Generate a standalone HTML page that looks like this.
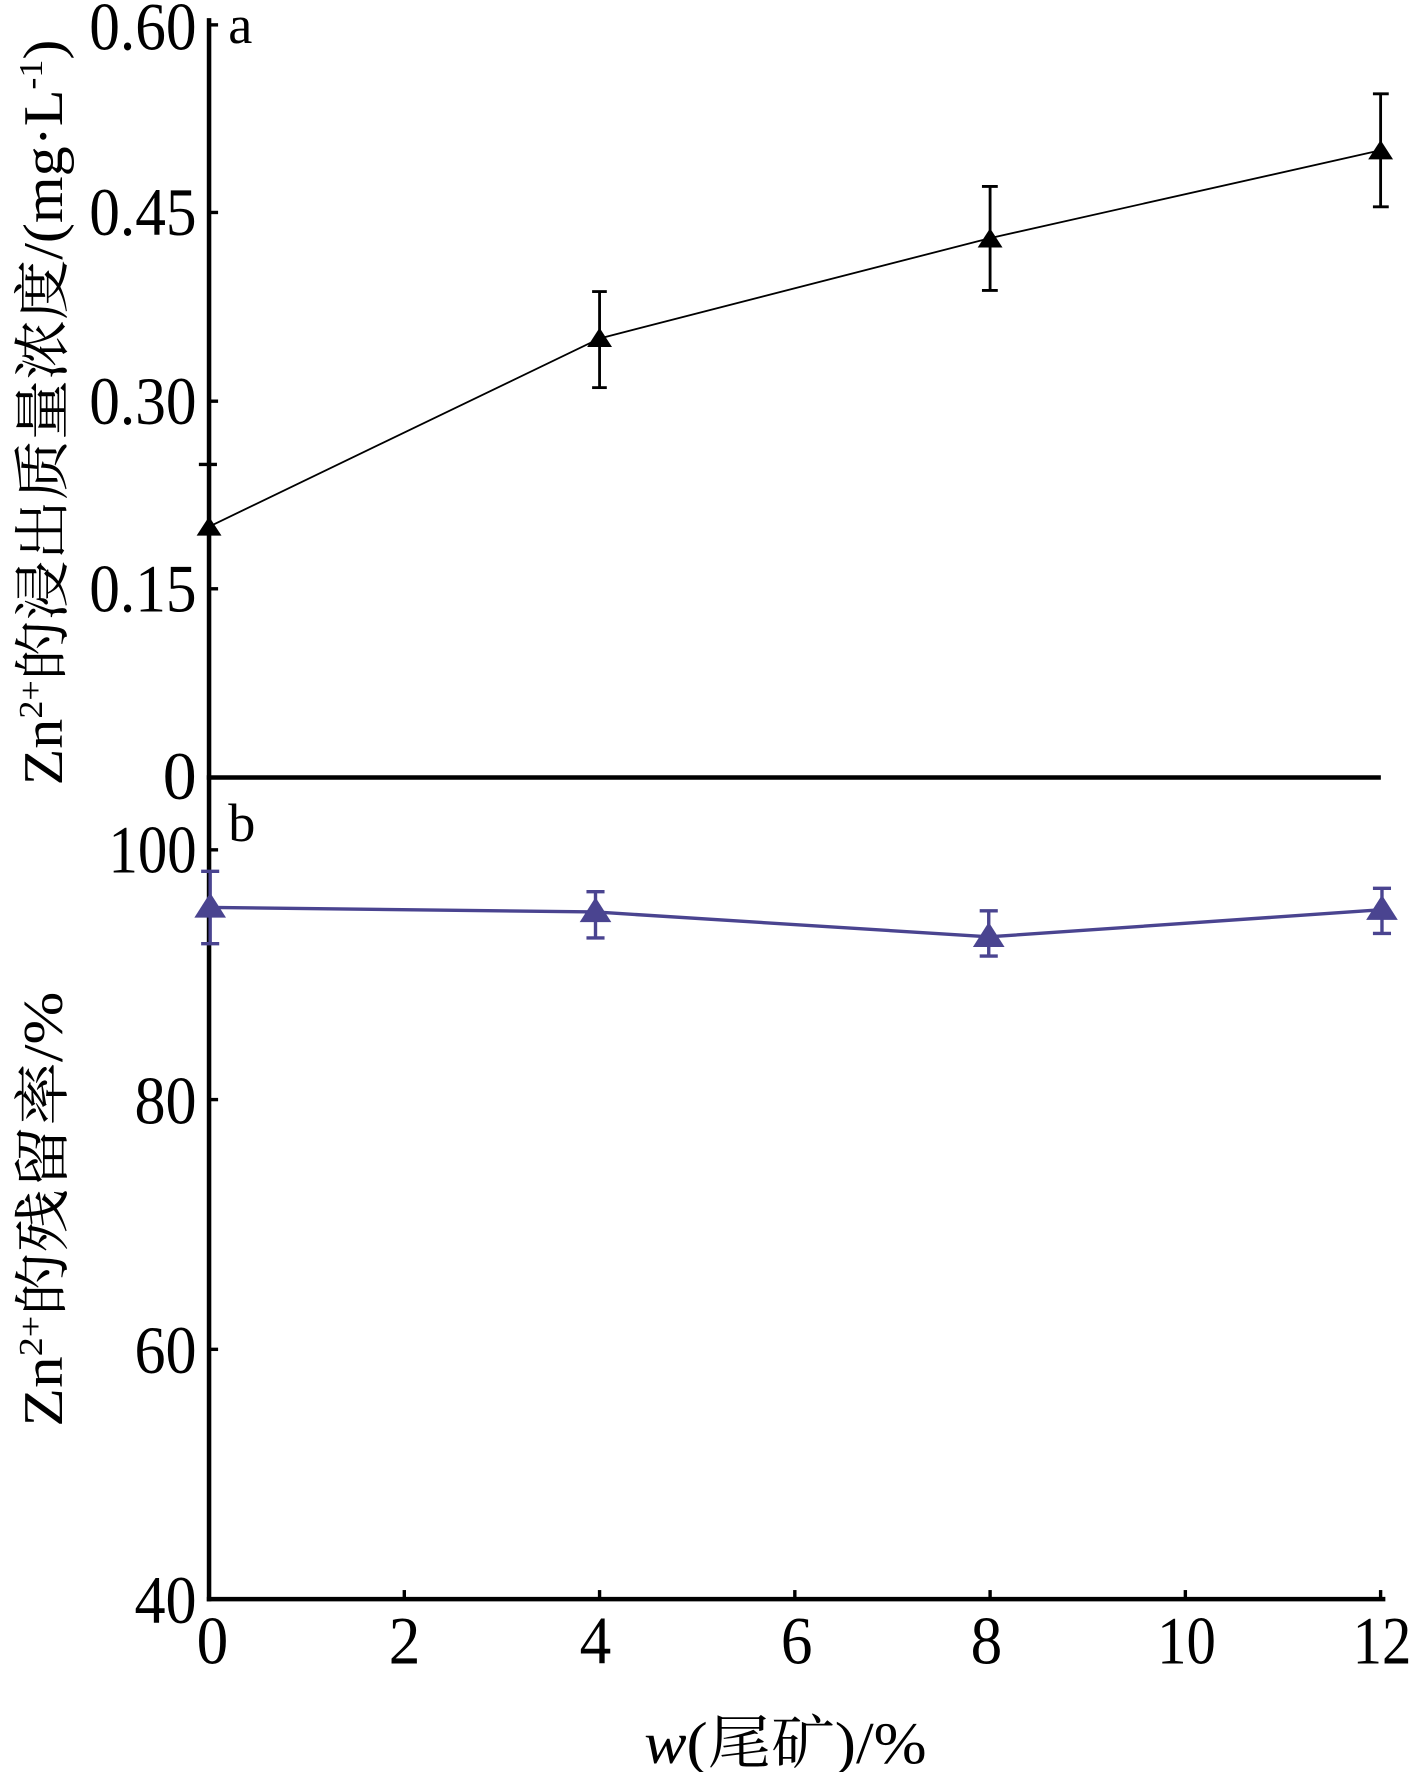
<!DOCTYPE html>
<html><head><meta charset="utf-8"><style>html,body{margin:0;padding:0;background:#fff}svg{display:block}</style></head>
<body>
<svg width="1417" height="1772" viewBox="0 0 1254 1568" preserveAspectRatio="none" xmlns="http://www.w3.org/2000/svg" font-family="'Liberation Serif','Noto Serif CJK SC',serif">
<rect width="1254" height="1568" fill="#fff"/>
<g stroke="#000" stroke-width="4" fill="none">
<line x1="185" y1="16" x2="185" y2="1417"/>
<line x1="183" y1="688" x2="1222" y2="688"/>
<line x1="183" y1="1415" x2="1226" y2="1415"/>
</g>
<g stroke="#000" stroke-width="3">
<line x1="185" y1="22" x2="193" y2="22"/>
<line x1="185" y1="188" x2="193" y2="188"/>
<line x1="185" y1="355" x2="193" y2="355"/>
<line x1="176" y1="411" x2="192" y2="411"/>
<line x1="185" y1="521" x2="193" y2="521"/>
<line x1="185" y1="752" x2="193" y2="752"/>
<line x1="185" y1="973" x2="193" y2="973"/>
<line x1="185" y1="1194" x2="193" y2="1194"/>
<line x1="357.8" y1="1415" x2="357.8" y2="1407"/>
<line x1="530.6" y1="1415" x2="530.6" y2="1407"/>
<line x1="703.4" y1="1415" x2="703.4" y2="1407"/>
<line x1="876.2" y1="1415" x2="876.2" y2="1407"/>
<line x1="1049" y1="1415" x2="1049" y2="1407"/>
<line x1="1221.8" y1="1415" x2="1221.8" y2="1407"/>
</g>
<g font-size="60" text-anchor="end" fill="#000">
<text x="174" y="44" textLength="95" lengthAdjust="spacingAndGlyphs">0.60</text>
<text x="174" y="208" textLength="95" lengthAdjust="spacingAndGlyphs">0.45</text>
<text x="174" y="375" textLength="95" lengthAdjust="spacingAndGlyphs">0.30</text>
<text x="174" y="541" textLength="95" lengthAdjust="spacingAndGlyphs">0.15</text>
<text x="174" y="707" textLength="30" lengthAdjust="spacingAndGlyphs">0</text>
<text x="174" y="772" textLength="78" lengthAdjust="spacingAndGlyphs">100</text>
<text x="174" y="994" textLength="55" lengthAdjust="spacingAndGlyphs">80</text>
<text x="174" y="1215" textLength="55" lengthAdjust="spacingAndGlyphs">60</text>
<text x="174" y="1436" textLength="55" lengthAdjust="spacingAndGlyphs">40</text>
</g>
<g font-size="60" text-anchor="middle" fill="#000">
<text x="188" y="1472" textLength="28" lengthAdjust="spacingAndGlyphs">0</text>
<text x="358" y="1472" textLength="28" lengthAdjust="spacingAndGlyphs">2</text>
<text x="527" y="1472" textLength="28" lengthAdjust="spacingAndGlyphs">4</text>
<text x="705" y="1472" textLength="28" lengthAdjust="spacingAndGlyphs">6</text>
<text x="873" y="1472" textLength="28" lengthAdjust="spacingAndGlyphs">8</text>
<text x="1050" y="1472" textLength="52" lengthAdjust="spacingAndGlyphs">10</text>
<text x="1223" y="1472" textLength="52" lengthAdjust="spacingAndGlyphs">12</text>
</g>
<text x="202" y="38" font-size="48">a</text>
<text x="202" y="744" font-size="48">b</text>
<text x="695" y="1560" font-size="52" text-anchor="middle" textLength="250" lengthAdjust="spacingAndGlyphs"><tspan font-style="italic">w</tspan>(尾矿)/%</text>
<text transform="translate(55,365) rotate(-90)" font-size="50" text-anchor="middle" textLength="660" lengthAdjust="spacingAndGlyphs">Zn<tspan font-size="30" dy="-18">2+</tspan><tspan dy="18">的浸出质量浓度/(mg·L</tspan><tspan font-size="30" dy="-18">-1</tspan><tspan dy="18">)</tspan></text>
<text transform="translate(55,1070) rotate(-90)" font-size="50" text-anchor="middle" textLength="385" lengthAdjust="spacingAndGlyphs">Zn<tspan font-size="30" dy="-18">2+</tspan><tspan dy="18">的残留率/%</tspan></text>
<polyline points="185,466 530.6,299.5 876.2,210.7 1221.8,133" fill="none" stroke="#000" stroke-width="1.6"/>
<g stroke="#000" stroke-width="2.5">
<line x1="530.6" y1="258" x2="530.6" y2="343"/><line x1="524" y1="258" x2="537" y2="258"/><line x1="524" y1="343" x2="537" y2="343"/>
<line x1="876.2" y1="165" x2="876.2" y2="257"/><line x1="869" y1="165" x2="883" y2="165"/><line x1="869" y1="257" x2="883" y2="257"/>
<line x1="1221.8" y1="83" x2="1221.8" y2="183"/><line x1="1215" y1="83" x2="1229" y2="83"/><line x1="1215" y1="183" x2="1229" y2="183"/>
</g>
<g fill="#000">
<polygon points="185,457 174,474 196,474"/>
<polygon points="530.6,290 519.6,307 541.6,307"/>
<polygon points="876.2,202 865.2,219 887.2,219"/>
<polygon points="1221.8,124 1210.8,141 1232.8,141"/>
</g>
<g stroke="#4a4490" fill="#4a4490">
<polyline points="187,803 527,807 875,829 1223,805" fill="none" stroke-width="3"/>
<g stroke-width="3">
<line x1="186" y1="771" x2="186" y2="835"/><line x1="178" y1="771" x2="194" y2="771"/><line x1="178" y1="835" x2="194" y2="835"/>
<line x1="527" y1="789" x2="527" y2="830"/><line x1="519" y1="789" x2="535" y2="789"/><line x1="519" y1="830" x2="535" y2="830"/>
<line x1="875" y1="806" x2="875" y2="846"/><line x1="867" y1="806" x2="883" y2="806"/><line x1="867" y1="846" x2="883" y2="846"/>
<line x1="1223" y1="786" x2="1223" y2="826"/><line x1="1215" y1="786" x2="1231" y2="786"/><line x1="1215" y1="826" x2="1231" y2="826"/>
</g>
<polygon points="186,790 172,812 200,812" stroke="none"/>
<polygon points="527,794 513,816 541,816" stroke="none"/>
<polygon points="875,816 861,838 889,838" stroke="none"/>
<polygon points="1223,792 1209,814 1237,814" stroke="none"/>
</g>
</svg>
</body></html>
